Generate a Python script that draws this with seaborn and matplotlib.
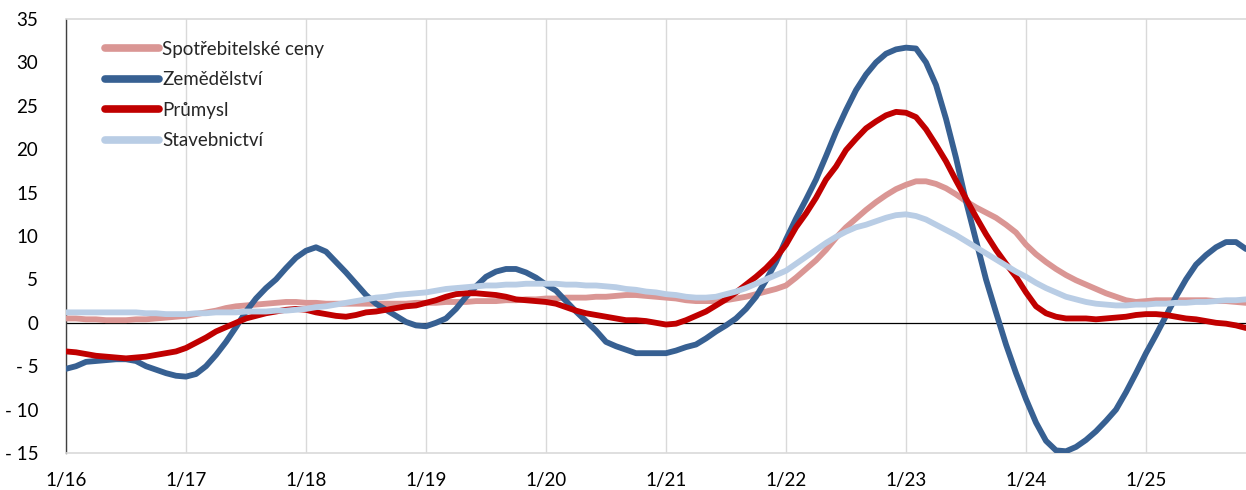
import numpy as np
import pandas as pd
import matplotlib
matplotlib.use("Agg")
import matplotlib.pyplot as plt
import seaborn as sns

# mesicni data 1/2016 - 11/2025, mezirocni zmena v %
spotrebitelske_ceny = [
    0.5, 0.5, 0.4, 0.4, 0.3, 0.3, 0.3, 0.4, 0.4, 0.5, 0.6, 0.7,
    0.8, 1.0, 1.2, 1.4, 1.7, 1.9, 2.0, 2.1, 2.2, 2.3, 2.4, 2.4,
    2.3, 2.3, 2.2, 2.2, 2.2, 2.2, 2.2, 2.2, 2.2, 2.2, 2.2, 2.3,
    2.3, 2.3, 2.4, 2.4, 2.4, 2.5, 2.5, 2.5, 2.6, 2.6, 2.7, 2.7,
    2.8, 2.8, 2.9, 2.9, 2.9, 3.0, 3.0, 3.1, 3.2, 3.2, 3.1, 3.0,
    2.9, 2.8, 2.6, 2.5, 2.5, 2.5, 2.6, 2.8, 3.0, 3.3, 3.6, 3.9,
    4.3, 5.2, 6.2, 7.2, 8.4, 9.8, 11.0, 12.0, 13.0, 13.9, 14.7, 15.4,
    15.9, 16.3, 16.3, 16.0, 15.5, 14.8, 14.0, 13.3, 12.7, 12.1, 11.3, 10.4,
    9.0, 7.9, 7.0, 6.2, 5.5, 4.9, 4.4, 3.9, 3.4, 3.0, 2.6, 2.4,
    2.5, 2.6, 2.6, 2.6, 2.6, 2.6, 2.6, 2.5, 2.5, 2.4, 2.3,
]

zemedelstvi = [
    -5.3, -5.0, -4.5, -4.4, -4.3, -4.2, -4.2, -4.4, -5.0, -5.4, -5.8, -6.1,
    -6.2, -5.9, -5.0, -3.7, -2.2, -0.5, 1.3, 2.8, 4.0, 5.0, 6.3, 7.5,
    8.3, 8.7, 8.2, 7.0, 5.8, 4.5, 3.2, 2.2, 1.5, 0.8, 0.1, -0.3,
    -0.4, 0.0, 0.5, 1.6, 3.0, 4.2, 5.3, 5.9, 6.2, 6.2, 5.8, 5.2,
    4.4, 3.7, 2.5, 1.3, 0.2, -0.9, -2.2, -2.7, -3.1, -3.5, -3.5, -3.5,
    -3.5, -3.2, -2.8, -2.5, -1.8, -1.0, -0.3, 0.5, 1.6, 3.0, 4.9, 7.0,
    9.6, 12.0, 14.2, 16.5, 19.2, 22.0, 24.5, 26.8, 28.6, 30.0, 31.0, 31.5,
    31.7, 31.6, 30.0, 27.4, 23.5, 19.0, 14.0, 9.5, 5.0, 1.2, -2.5, -5.8,
    -8.8, -11.5, -13.6, -14.7, -14.8, -14.3, -13.5, -12.5, -11.3, -10.0, -8.0, -5.8,
    -3.5, -1.4, 0.8, 3.0, 5.0, 6.7, 7.8, 8.7, 9.3, 9.3, 8.5,
]

prumysl = [
    -3.3, -3.4, -3.6, -3.8, -3.9, -4.0, -4.1, -4.0, -3.9, -3.7, -3.5, -3.3,
    -2.9, -2.3, -1.7, -1.0, -0.5, 0.0, 0.5, 0.8, 1.1, 1.3, 1.5, 1.6,
    1.5, 1.2, 1.0, 0.8, 0.7, 0.9, 1.2, 1.3, 1.5, 1.7, 1.9, 2.0,
    2.3, 2.6, 3.0, 3.3, 3.4, 3.4, 3.3, 3.2, 3.0, 2.7, 2.6, 2.5,
    2.4, 2.2, 1.8, 1.4, 1.1, 0.9, 0.7, 0.5, 0.3, 0.3, 0.2, 0.0,
    -0.2, -0.1, 0.3, 0.8, 1.3, 2.0, 2.7, 3.5, 4.4, 5.3, 6.3, 7.5,
    9.0, 11.0, 12.6, 14.4, 16.5, 18.0, 19.9, 21.2, 22.4, 23.2, 23.9, 24.3,
    24.2, 23.7, 22.3, 20.5, 18.6, 16.4, 14.3, 12.2, 10.2, 8.4, 6.8, 5.3,
    3.5, 1.9, 1.1, 0.7, 0.5, 0.5, 0.5, 0.4, 0.5, 0.6, 0.7, 0.9,
    1.0, 1.0, 0.9, 0.7, 0.5, 0.4, 0.2, 0.0, -0.1, -0.3, -0.6,
]

stavebnictvi = [
    1.2, 1.2, 1.2, 1.2, 1.2, 1.2, 1.2, 1.2, 1.1, 1.1, 1.0, 1.0,
    1.0, 1.1, 1.1, 1.2, 1.2, 1.2, 1.3, 1.3, 1.3, 1.4, 1.4, 1.5,
    1.6, 1.8, 1.9, 2.1, 2.3, 2.5, 2.7, 2.9, 3.0, 3.2, 3.3, 3.4,
    3.5, 3.7, 3.9, 4.0, 4.1, 4.2, 4.3, 4.3, 4.4, 4.4, 4.5, 4.5,
    4.5, 4.5, 4.4, 4.4, 4.3, 4.3, 4.2, 4.1, 3.9, 3.8, 3.6, 3.5,
    3.3, 3.2, 3.0, 2.9, 2.9, 3.0, 3.3, 3.6, 4.0, 4.5, 5.0, 5.5,
    6.0, 6.8, 7.6, 8.4, 9.2, 9.9, 10.5, 11.0, 11.3, 11.7, 12.1, 12.4,
    12.5, 12.3, 11.9, 11.3, 10.7, 10.1, 9.4, 8.7, 8.0, 7.3, 6.6, 5.9,
    5.3, 4.6, 4.0, 3.5, 3.0, 2.7, 2.4, 2.2, 2.1, 2.0, 2.0, 2.1,
    2.1, 2.2, 2.2, 2.3, 2.3, 2.4, 2.4, 2.5, 2.6, 2.6, 2.7,
]

nazvy = ["Spotřebitelské ceny", "Zemědělství", "Průmysl", "Stavebnictví"]
barvy = ["#DA9694", "#376092", "#C00000", "#B9CDE5"]

x_popisky = ["1/16", "1/17", "1/18", "1/19", "1/20", "1/21", "1/22", "1/23", "1/24", "1/25"]
y_hodnoty = [35, 30, 25, 20, 15, 10, 5, 0, -5, -10, -15]

mesic = np.arange(len(zemedelstvi))
df = pd.DataFrame({
    "mesic": mesic,
    nazvy[0]: spotrebitelske_ceny,
    nazvy[1]: zemedelstvi,
    nazvy[2]: prumysl,
    nazvy[3]: stavebnictvi,
})
df_long = df.melt(id_vars="mesic", var_name="rada", value_name="hodnota")

sns.set_style("white")
plt.rcParams["font.family"] = ["Lato", "DejaVu Sans"]

fig = plt.figure(figsize=(12.46, 4.9), dpi=100)
ax = fig.add_axes([66 / 1246, 1 - 453 / 490, 1 - 66 / 1246, (453 - 19) / 490])

for i in range(0, 120, 12):
    ax.axvline(i, color="#D9D9D9", lw=1.0, zorder=0)
ax.axhline(0, color="black", lw=0.9, zorder=1)

sns.lineplot(
    data=df_long, x="mesic", y="hodnota", hue="rada", hue_order=nazvy,
    palette=barvy, linewidth=4.2, ax=ax, zorder=3,
)

ax.set_xlim(0, 118)
ax.set_ylim(-15, 35)
ax.set_xticks(range(0, 120, 12))
ax.set_xticklabels(x_popisky)
ax.set_yticks(y_hodnoty)
ax.set_yticklabels([f"- {abs(v)}" if v < 0 else str(v) for v in y_hodnoty])
ax.tick_params(axis="both", length=0, labelsize=13.5, colors="black")
ax.tick_params(axis="x", pad=14)
ax.tick_params(axis="y", pad=20)
ax.set_xlabel("")
ax.set_ylabel("")

for s in ["top", "bottom"]:
    ax.spines[s].set_color("#D9D9D9")
    ax.spines[s].set_linewidth(1.2)
ax.spines["right"].set_visible(False)
ax.spines["left"].set_color("#404040")
ax.spines["left"].set_linewidth(1.0)

leg = ax.legend(
    loc="upper left", bbox_to_anchor=(0.033, 0.950), frameon=False,
    borderpad=0, borderaxespad=0,
    fontsize=13.5, handlelength=2.9, handletextpad=0.15, labelspacing=0.72,
)
for h in leg.get_lines():
    h.set_linewidth(5.5)
    h.set_solid_capstyle("round")

fig.savefig("out.png", dpi=100)
